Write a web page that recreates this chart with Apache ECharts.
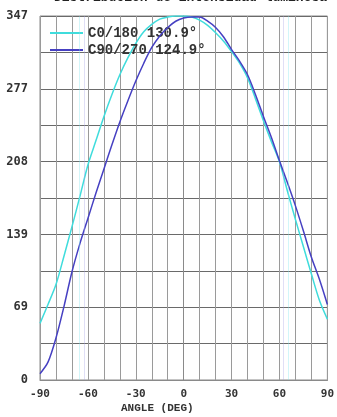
<!DOCTYPE html>
<html>
<head>
<meta charset="utf-8">
<script src="https://cdn.jsdelivr.net/npm/echarts@6/dist/echarts.min.js"></script>
<style>
  html, body { margin: 0; padding: 0; background: #fff; }
  #chart { width: 337px; height: 417px; }
</style>
</head>
<body>
<div id="chart"></div>
<script>
// Luminous intensity distribution (cd) vs. angle, two photometric planes
const angles = [-90,-85,-80,-75,-70,-65,-60,-55,-50,-45,-40,-35,-30,-25,-20,-15,-10,-5,0,
                5,10,15,20,25,30,35,40,45,50,55,60,65,70,75,80,85,90];
const c0_180 = [54,72,91,118,146,175,205,228,251,272,291,307,321,332,339,344,346,347,347,
                346,343,338,331,323,313,302,288,268,247,227,208,180,153,127,101,76,58];
const c90_270 = [6,17,40,70,103,130,154,178,201,224,246,266,285,302,317,328,336,342,345,
                 346,346,342,336,327,315,304,291,272,251,231,209,188,166,142,117,96,72];
const seriesNames = ['C0/180 130.9°', 'C90/270 124.9°'];
const beamAngles = [130.9, 124.9];
const xTickLabels = ['-90', '-60', '-30', '0', '30', '60', '90'];
const yTickLabels = ['0', '69', '139', '208', '277', '347'];
const yMax = 347;

const colors = ['#3fdcdc', '#4640c2'];
const mono = 'Liberation Mono';
const tickFont = 'DejaVu Sans Mono';

const chart = echarts.init(document.getElementById('chart'), null, { renderer: 'canvas' });

function halfAngleLines(beam, color) {
  return {
    silent: true,
    symbol: 'none',
    label: { show: false },
    lineStyle: { color: color, width: 1, type: 'solid', opacity: 0.35 },
    data: [{ xAxis: -beam / 2 }, { xAxis: beam / 2 }]
  };
}

chart.setOption({
  animation: false,
  backgroundColor: '#fff',
  grid: { left: 40, right: 6, top: 16, bottom: 37, show: true, borderColor: '#8a8a8a', borderWidth: 1 },
  graphic: [
    {
      type: 'text', left: 192 - 138, top: -9,
      style: { text: 'Distribución de intensidad luminosa', font: 'bold 13px "' + mono + '"', fill: '#222' }
    },
    {
      type: 'text', left: 121, top: 403,
      style: { text: 'ANGLE (DEG)', font: 'bold 11px "' + mono + '"', fill: '#333' }
    }
  ],
  legend: {
    left: 45, top: 21, orient: 'vertical', itemWidth: 33, itemHeight: 2, itemGap: 3,
    icon: 'rect',
    textStyle: { fontFamily: mono, fontWeight: 'bold', fontSize: 14, color: '#333' },
    data: seriesNames
  },
  xAxis: {
    type: 'value', min: -90, max: 90, interval: 10,
    axisLine: { show: true, lineStyle: { color: '#8a8a8a' } },
    axisTick: { show: false },
    splitLine: { show: true, lineStyle: { color: '#9a9a9a', width: 1 } },
    axisLabel: {
      fontFamily: tickFont, fontWeight: 'bold', fontSize: 11, color: '#333', margin: 9,
      formatter: function (v) {
        const r = Math.round(v);
        if (r % 30 !== 0) return '';
        return xTickLabels[(r + 90) / 30];
      }
    }
  },
  yAxis: {
    type: 'value', min: 0, max: yMax, interval: yMax / 10,
    axisLine: { show: true, lineStyle: { color: '#8a8a8a' } },
    axisTick: { show: false },
    splitLine: { show: true, lineStyle: { color: '#6a6a6a', width: 1 } },
    axisLabel: {
      fontFamily: tickFont, fontWeight: 'bold', fontSize: 12, color: '#333', margin: 12,
      formatter: function (v) {
        const i = Math.round(v / (yMax / 10));
        if (i % 2 !== 0) return '';
        return yTickLabels[i / 2];
      }
    }
  },
  series: [
    {
      name: seriesNames[0], type: 'line', symbol: 'none', smooth: 0.3,
      data: angles.map((a, i) => [a, c0_180[i]]),
      lineStyle: { color: colors[0], width: 1.5 }, itemStyle: { color: colors[0] },
      markLine: halfAngleLines(beamAngles[0], '#7fe6ee'),
      z: 3
    },
    {
      name: seriesNames[1], type: 'line', symbol: 'none', smooth: 0.3,
      data: angles.map((a, i) => [a, c90_270[i]]),
      lineStyle: { color: colors[1], width: 1.5 }, itemStyle: { color: colors[1] },
      markLine: halfAngleLines(beamAngles[1], '#a6a2e6'),
      z: 4
    }
  ]
});
</script>
</body>
</html>
